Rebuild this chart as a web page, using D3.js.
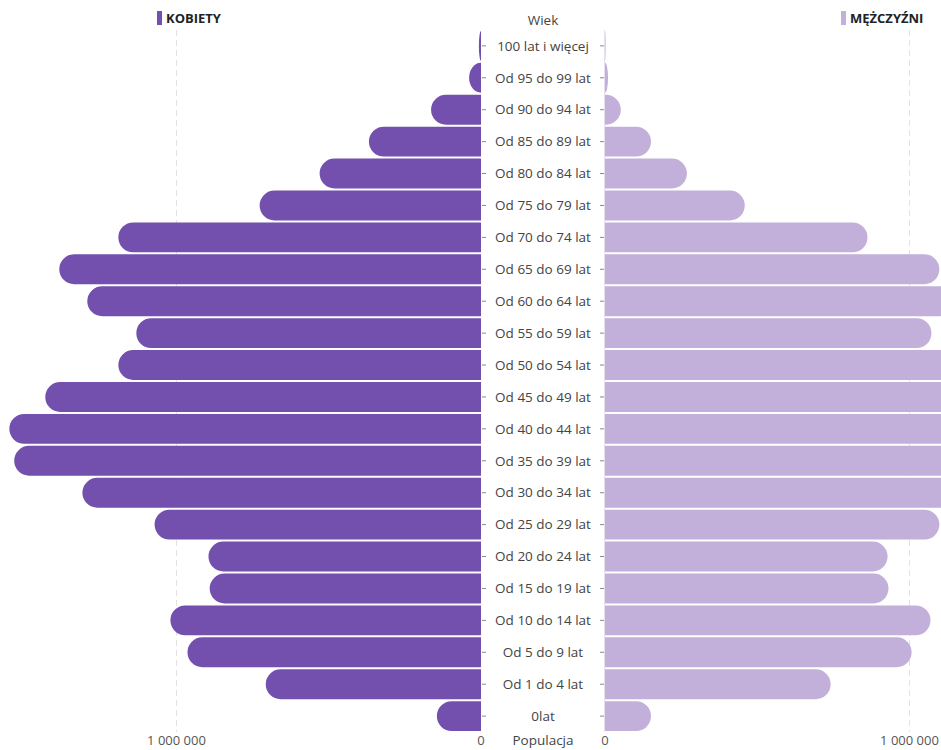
<!DOCTYPE html>
<html lang="pl">
<head>
<meta charset="utf-8">
<script src="https://cdn.jsdelivr.net/npm/d3@7/dist/d3.min.js"></script>
<style>
  html, body { margin: 0; padding: 0; background: #fff; }
  svg { display: block; font-family: "Open Sans", "Noto Sans", sans-serif; }
</style>
</head>
<body>
<svg id="chart" width="941" height="750"></svg>
<script>
// Age groups, oldest at the top
const ageGroups = [
  "100 lat i więcej", "Od 95 do 99 lat", "Od 90 do 94 lat", "Od 85 do 89 lat",
  "Od 80 do 84 lat", "Od 75 do 79 lat", "Od 70 do 74 lat", "Od 65 do 69 lat",
  "Od 60 do 64 lat", "Od 55 do 59 lat", "Od 50 do 54 lat", "Od 45 do 49 lat",
  "Od 40 do 44 lat", "Od 35 do 39 lat", "Od 30 do 34 lat", "Od 25 do 29 lat",
  "Od 20 do 24 lat", "Od 15 do 19 lat", "Od 10 do 14 lat", "Od 5 do 9 lat",
  "Od 1 do 4 lat", "0lat"
];

// Population by age group
const women = [
  7000, 39000, 164000, 368000, 530000, 727000, 1191000, 1385000,
  1293000, 1132000, 1191000, 1431000, 1549000, 1533000, 1309000, 1072000,
  895000, 891000, 1020000, 964000, 707000, 145000
];
const men = [
  2000, 10000, 52000, 151000, 269000, 459000, 862000, 1098000,
  1150000, 1072000, 1160000, 1440000, 1580000, 1575000, 1350000, 1098000,
  928000, 931000, 1069000, 1007000, 741000, 151000
];

const xTicks = [0, 1000000];
const seriesNames = ["KOBIETY", "MĘŻCZYŹNI"];
const centerTitle = "Wiek";
const axisTitle = "Populacja";

const colWomen = "#7350ad";
const colMen = "#c2b0db";

const svg = d3.select("#chart");
const W = 941, H = 750;

const leftZero = 481, rightZero = 605, centerX = 543;
const pxPerMillion = 304.5;

const xLeft = d3.scaleLinear().domain([0, 1000000]).range([leftZero, leftZero - pxPerMillion]);
const xRight = d3.scaleLinear().domain([0, 1000000]).range([rightZero, rightZero + pxPerMillion]);

const y = d3.scaleBand().domain(ageGroups).range([30, 732]).paddingInner(0.065).paddingOuter(0.03);
const bh = y.bandwidth();
const r = bh / 2;

const fmt = v => d3.format(",")(v).replace(/,/g, "\u00a0");

// dashed gridlines at 1 000 000
const grid = svg.append("g");
grid.append("line")
  .attr("x1", xLeft(1000000)).attr("x2", xLeft(1000000))
  .attr("y1", 30).attr("y2", 732)
  .attr("stroke", "#e2e2e2").attr("stroke-dasharray", "6,4");
grid.append("line")
  .attr("x1", xRight(1000000)).attr("x2", xRight(1000000))
  .attr("y1", 30).attr("y2", 732)
  .attr("stroke", "#e2e2e2").attr("stroke-dasharray", "6,4");

// bar with a rounded outer end and a square inner end
function barPath(x0, x1, yTop, h, dir) {
  const len = Math.abs(x1 - x0);
  const rr = Math.min(h / 2, len);
  const yb = yTop + h;
  if (dir < 0) {
    // grows to the left from x0
    return `M${x0},${yTop} L${x1 + rr},${yTop} A${rr},${h/2} 0 0 0 ${x1 + rr - rr},${yTop + h/2}` +
           ` A${rr},${h/2} 0 0 0 ${x1 + rr},${yb} L${x0},${yb} Z`;
  } else {
    return `M${x0},${yTop} L${x1 - rr},${yTop} A${rr},${h/2} 0 0 1 ${x1},${yTop + h/2}` +
           ` A${rr},${h/2} 0 0 1 ${x1 - rr},${yb} L${x0},${yb} Z`;
  }
}

svg.append("g").selectAll("path")
  .data(ageGroups.map((g, i) => ({ g, v: women[i] })))
  .join("path")
  .attr("fill", colWomen)
  .attr("d", d => barPath(xLeft(0), xLeft(d.v), y(d.g), bh, -1));

svg.append("g").selectAll("path")
  .data(ageGroups.map((g, i) => ({ g, v: men[i] })))
  .join("path")
  .attr("fill", colMen)
  .attr("d", d => barPath(xRight(0), xRight(d.v), y(d.g), bh, 1));

// center column of age labels with small ticks on both sides
const center = svg.append("g");
center.append("line")
  .attr("x1", rightZero - 0.5).attr("x2", rightZero - 0.5)
  .attr("y1", 30).attr("y2", 732)
  .attr("stroke", "#e4e0ec");
center.selectAll("line.tl")
  .data(ageGroups).join("line").attr("class", "tl")
  .attr("x1", leftZero + 1).attr("x2", leftZero + 5)
  .attr("y1", d => y(d) + bh / 2).attr("y2", d => y(d) + bh / 2)
  .attr("stroke", "#888");
center.selectAll("line.tr")
  .data(ageGroups).join("line").attr("class", "tr")
  .attr("x1", rightZero - 5).attr("x2", rightZero - 1)
  .attr("y1", d => y(d) + bh / 2).attr("y2", d => y(d) + bh / 2)
  .attr("stroke", "#888");
center.selectAll("text")
  .data(ageGroups).join("text")
  .attr("x", centerX).attr("y", d => y(d) + bh / 2)
  .attr("dy", "0.35em")
  .attr("text-anchor", "middle")
  .attr("font-size", 13.5)
  .attr("fill", "#444")
  .text(d => d);

svg.append("text")
  .attr("x", centerX).attr("y", 20).attr("dy", "0.35em")
  .attr("text-anchor", "middle").attr("font-size", 13.5).attr("fill", "#444")
  .text(centerTitle);

// bottom axes
const axisY = 745;
const bottom = svg.append("g").attr("font-size", 13).attr("fill", "#555");
xTicks.forEach(t => {
  bottom.append("text").attr("x", xLeft(t)).attr("y", axisY)
    .attr("text-anchor", "middle").text(fmt(t));
  bottom.append("text").attr("x", xRight(t)).attr("y", axisY)
    .attr("text-anchor", "middle").text(fmt(t));
});
bottom.append("text").attr("x", centerX).attr("y", axisY)
  .attr("text-anchor", "middle").attr("fill", "#444").attr("font-size", 13.5).text(axisTitle);

// legend
const legend = svg.append("g").attr("font-size", 13).attr("font-weight", 700).attr("fill", "#222");
legend.append("rect").attr("x", 157).attr("y", 11).attr("width", 5).attr("height", 14).attr("fill", colWomen);
legend.append("text").attr("x", 166).attr("y", 18).attr("dy", "0.35em").text(seriesNames[0]);
legend.append("rect").attr("x", 841).attr("y", 11).attr("width", 5).attr("height", 14).attr("fill", colMen);
legend.append("text").attr("x", 850).attr("y", 18).attr("dy", "0.35em").text(seriesNames[1]);
</script>
</body>
</html>
